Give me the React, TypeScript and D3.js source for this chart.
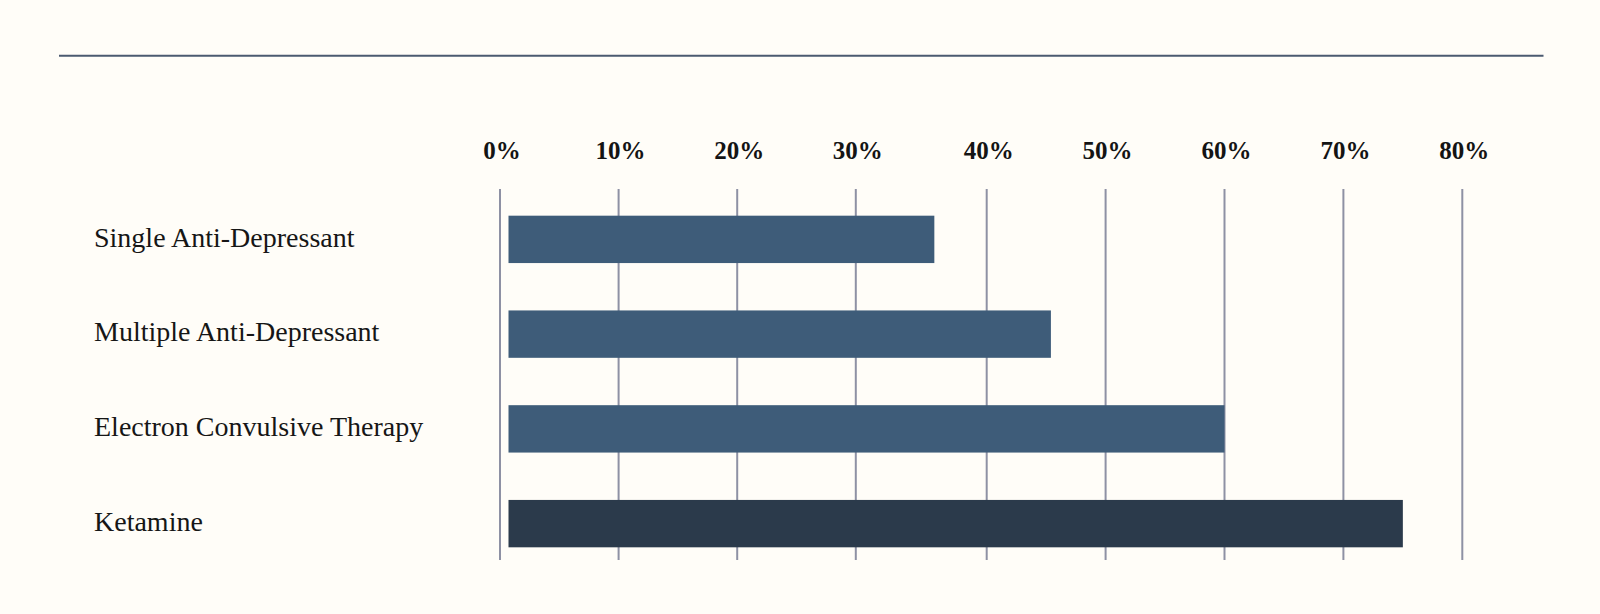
import React from "react";
import * as d3 from "d3";

const categories = [
  "Single Anti-Depressant",
  "Multiple Anti-Depressant",
  "Electron Convulsive Therapy",
  "Ketamine",
];
const values = [36, 45.4, 60, 75];
const highlight = [false, false, false, true];
const tickValues = [0, 10, 20, 30, 40, 50, 60, 70, 80];
const tickLabels = ["0%", "10%", "20%", "30%", "40%", "50%", "60%", "70%", "80%"];

const W = 1600;
const H = 614;
const BG = "#fffdf8";
const BAR = "#3e5c79";
const BAR_HI = "#2b3a4b";
const GRID = "#8e91a4";
const RULE = "#4b5a70";
const SERIF = "'Liberation Serif', 'Times New Roman', serif";

export default function App() {
  React.useEffect(() => {
    document.body.style.margin = "0";
    document.body.style.background = BG;
  }, []);

  // grid column positions (layout of the original, slightly wider gap between 30% and 40%)
  const x = d3
    .scaleLinear()
    .domain(tickValues)
    .range([500, 618.6, 737.2, 855.8, 986.7, 1105.6, 1224.5, 1343.4, 1462.3]);

  const y = d3
    .scaleBand<string>()
    .domain(categories)
    .range([192, 571])
    .paddingInner(0.5)
    .paddingOuter(0.25);

  const barStart = x(0) + 8.5;
  const gridTop = 189;
  const gridBottom = 560;

  return (
    <svg width={W} height={H} style={{ display: "block", background: BG }}>
      <rect x={0} y={0} width={W} height={H} fill={BG} />
      <line x1={59} x2={1543.5} y1={55.7} y2={55.7} stroke={RULE} strokeWidth={2} />

      {tickValues.map((t, i) => (
        <g key={t}>
          <line
            x1={x(t)}
            x2={x(t)}
            y1={gridTop}
            y2={gridBottom}
            stroke={GRID}
            strokeWidth={2}
          />
          <text
            x={x(t) + 2}
            y={158.5}
            textAnchor="middle"
            fontFamily={SERIF}
            fontWeight={700}
            fontSize={25}
            fill="#141414"
          >
            {tickLabels[i]}
          </text>
        </g>
      ))}

      {categories.map((c, i) => {
        const yy = y(c) as number;
        const bw = y.bandwidth();
        return (
          <g key={c}>
            <rect
              x={barStart}
              y={yy}
              width={x(values[i]) - barStart}
              height={bw}
              fill={highlight[i] ? BAR_HI : BAR}
            />
            <text
              x={94}
              y={yy + bw / 2 + 7.2}
              fontFamily={SERIF}
              fontSize={28}
              fill="#161616"
            >
              {c}
            </text>
          </g>
        );
      })}
    </svg>
  );
}
